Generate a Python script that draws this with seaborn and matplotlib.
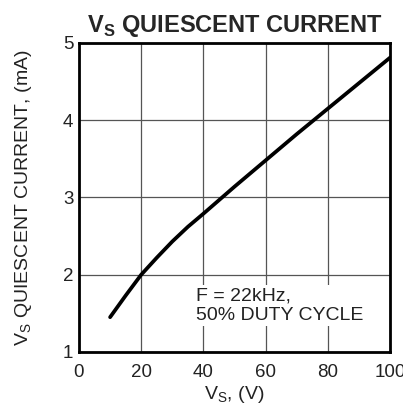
import numpy as np
import pandas as pd
import seaborn as sns
import matplotlib.pyplot as plt

# values
vs_volts = [10, 15, 20, 25, 30, 35, 40, 50, 60, 70, 80, 90, 100]
iq_ma = [1.45, 1.73, 2.0, 2.22, 2.43, 2.62, 2.79, 3.14, 3.48, 3.82, 4.15, 4.48, 4.81]
x_ticks = [0, 20, 40, 60, 80, 100]
y_ticks = [1, 2, 3, 4, 5]

sns.set_style("white")
plt.rcParams['font.family'] = ['Liberation Sans', 'DejaVu Sans']
plt.rcParams['mathtext.fontset'] = 'custom'
plt.rcParams['mathtext.rm'] = 'Liberation Sans'
plt.rcParams['mathtext.bf'] = 'Liberation Sans:bold'

df = pd.DataFrame({"vs": vs_volts, "iq": iq_ma})

fig = plt.figure(figsize=(4.03, 4.05), dpi=100)
ax = fig.add_axes([0.196, 0.131, 0.772, 0.763])

sns.lineplot(data=df, x="vs", y="iq", ax=ax, color="black", linewidth=2.7, zorder=3)

ax.set_xlim(0, 100)
ax.set_ylim(1, 5)
ax.set_xticks(x_ticks)
ax.set_yticks(y_ticks)
ax.grid(True, color="#555555", linewidth=0.9)
ax.set_axisbelow(True)
for s in ax.spines.values():
    s.set_linewidth(2.0)
    s.set_color("black")
ax.tick_params(length=0, labelsize=13.5, colors="#222222")
ax.tick_params(axis="x", pad=8.5)
ax.tick_params(axis="y", pad=4)

ax.set_xlabel(r"V$_\mathregular{S}$, (V)", fontsize=14, labelpad=2.5, color="#222222")
ax.set_ylabel(r"V$_\mathregular{S}$ QUIESCENT CURRENT, (mA)", fontsize=14, labelpad=21, color="#222222")
ax.set_title(r"V$_\mathbf{S}$ QUIESCENT CURRENT", fontsize=17, fontweight="bold", pad=8)

ax.text(37.5, 1.84, "F = 22kHz,\n50% DUTY CYCLE", fontsize=14, color="#222222",
        va="top", ha="left", linespacing=1.2,
        bbox=dict(facecolor="white", edgecolor="none", pad=1.5), zorder=2)

fig.savefig("out.png", dpi=100)
